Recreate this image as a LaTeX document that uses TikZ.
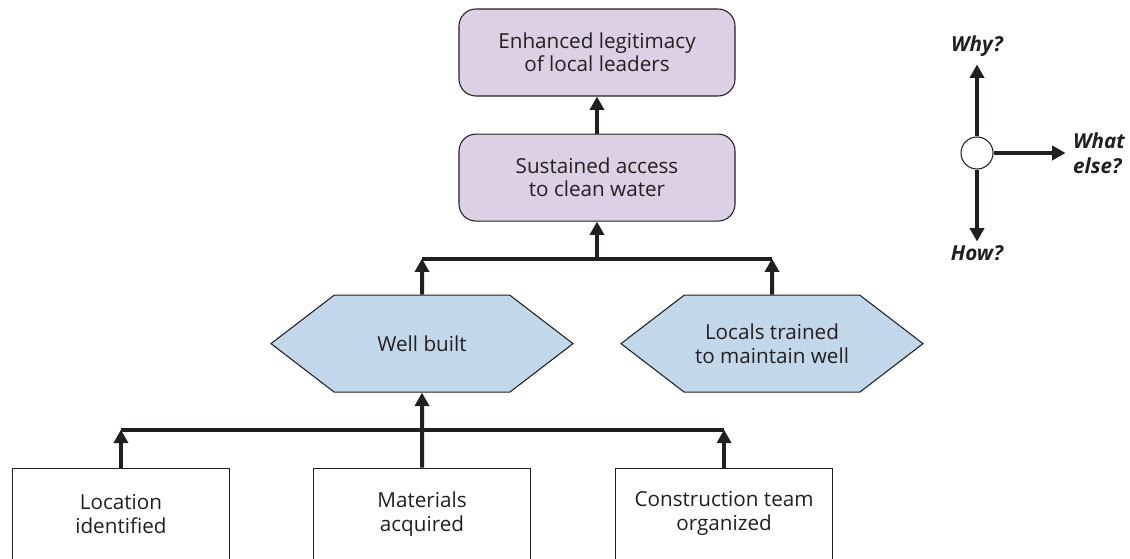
\documentclass[tikz,border=0pt]{standalone}
\usepackage{fontspec}
\setmainfont{Open Sans}
\usetikzlibrary{positioning,arrows.meta,shapes.symbols,calc}
\definecolor{palPurpleLt}{HTML}{DCD0E4}
\definecolor{palBlueLt}{HTML}{C3D7EB}
\definecolor{palInk}{HTML}{231F20}
\tikzset{
  goalnode/.style={draw=palInk, fill=palPurpleLt, rounded corners=12.75pt,
                   minimum width=207pt, minimum height=65.25pt, align=center,
                   font=\fontsize{15.5}{17.5}\selectfont, text=palInk, line width=0.8pt},
  outnode/.style={draw=palInk, fill=palBlueLt, shape=signal,
                  signal to=east and west, signal pointer angle=75,
                  minimum width=226.5pt, minimum height=72.75pt, align=center,
                  font=\fontsize{15.5}{17.5}\selectfont, text=palInk, line width=0.8pt},
  actnode/.style={draw=palInk, rectangle, minimum width=162.75pt,
                  minimum height=68.25pt, align=center,
                  font=\fontsize{15.5}{18}\selectfont, text=palInk, line width=0.8pt},
  hubnode/.style={draw=palInk, circle, fill=white, minimum size=24pt,
                  inner sep=0pt, line width=0.8pt},
  linkarrow/.style={-{Triangle[length=10pt, width=10.5pt]}, line width=3pt, palInk},
  barline/.style={line width=3pt, palInk},
  asklabel/.style={font=\fontsize{15.5}{18.75}\selectfont\bfseries\itshape,
                   text=palInk, inner sep=1pt},
}

\begin{document}
\begin{tikzpicture}[x=0.75pt, y=-0.75pt]
\useasboundingbox (0,0) rectangle (1130,558);
%% Goal Nodes
\node[goalnode] (lead) at (597,52.5) {Enhanced legitimacy\\of local leaders};
\node[goalnode, below=27.75pt of lead] (access) {Sustained access\\to clean water};
\coordinate[below=27.75pt of access] (topbar);
%% Output Nodes
\node[outnode, below=54.75pt of access, xshift=-131.25pt] (well) {Well built};
\node[outnode, below=54.75pt of access, xshift=131.25pt] (locals) {Locals trained\\to maintain well};
%% Activity Nodes
\node[actnode, below=56.25pt of well] (mat) {Materials\\acquired};
\node[actnode, left=62.25pt of mat] (loc) {Location\\identified};
\node[actnode, right=63pt of mat] (cons) {Construction team\\organized};
\coordinate[above=28.5pt of mat] (lowbar);
%% Links
\draw[linkarrow] (access) -- (lead);
\draw[linkarrow] (topbar) -- (access);
\draw[barline] (well |- topbar) -- (locals |- topbar);
\draw[linkarrow] (well) -- (well |- topbar);
\draw[linkarrow] (locals) -- (locals |- topbar);
\draw[linkarrow] (mat) -- (well);
\draw[barline] (loc |- lowbar) -- (cons |- lowbar);
\draw[linkarrow] (loc) -- (loc |- lowbar);
\draw[linkarrow] (cons) -- (cons |- lowbar);
%% Compass
\node[hubnode] (hub) at (977,153) {};
\coordinate[above=54pt of hub] (why);
\coordinate[right=54pt of hub] (whatelse);
\coordinate[below=54pt of hub] (how);
\draw[linkarrow] (hub) -- (why);
\draw[linkarrow] (hub) -- (whatelse);
\draw[linkarrow] (hub) -- (how);
\node[asklabel, above=5pt of why] (whylbl) {Why?};
\node[asklabel, right=4.5pt of whatelse, align=left] (whatlbl) {What\\else?};
\node[asklabel, below=2pt of how] (howlbl) {How?};
\end{tikzpicture}
\end{document}
